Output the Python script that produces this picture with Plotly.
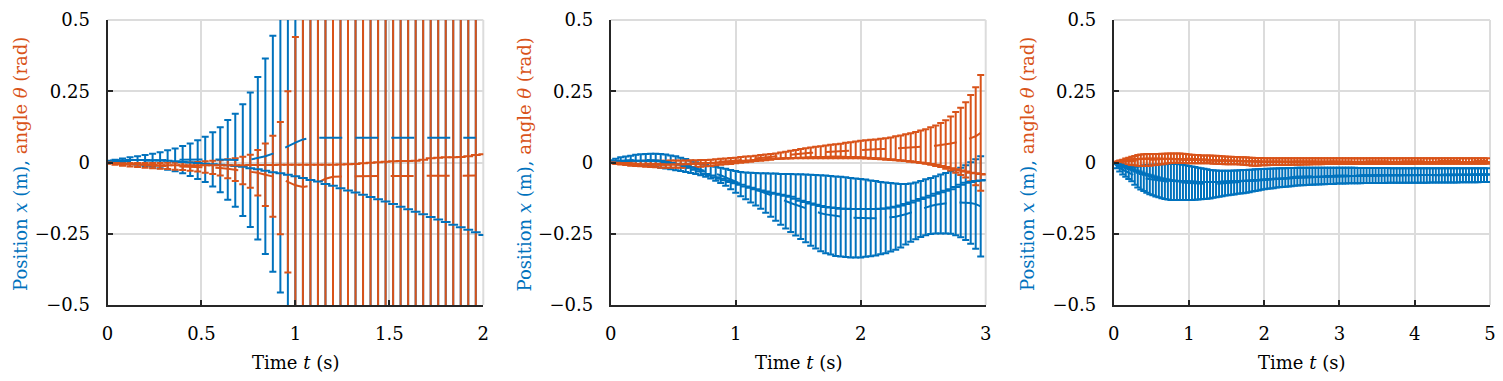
import numpy as np
import plotly.graph_objects as go

DT = 0.04
BLUE = "#0072BD"
ORANGE = "#D95319"

# ---------------- Panel 1 (0..2 s): predicted mean / half-width, and actual rollout
x1_mean = [0.003, 0.004, 0.005, 0.006, 0.007, 0.007, 0.008, 0.008, 0.009, 0.009, 0.010, 0.010, 0.010, 0.011, 0.011, 0.010, 0.009, 0.008, 0.008, 0.010, 0.015, 0.022, 0.031, 0.044, 0.058,
           0.070, 0.081, 0.086, 0.087, 0.087, 0.087, 0.087, 0.087, 0.087, 0.087, 0.087, 0.087, 0.087, 0.087, 0.087, 0.087, 0.087, 0.087, 0.087, 0.087, 0.087, 0.087, 0.087, 0.087, 0.087]
x1_err = [0.003, 0.006, 0.009, 0.012, 0.015, 0.019, 0.023, 0.028, 0.034, 0.040, 0.048, 0.057, 0.068, 0.079, 0.095, 0.114, 0.140, 0.163, 0.196, 0.236, 0.285, 0.343, 0.414, 0.500, 0.600,
          0.72, 0.86, 1.02, 1.2, 1.4, 1.6, 1.8, 2.0, 2.2, 2.4, 2.6, 2.8, 3.0, 3.2, 3.4, 3.6, 3.8, 4.0, 4.2, 4.4, 4.6, 4.8, 5.0, 5.2, 5.4]
th1_mean = [-0.002, -0.004, -0.006, -0.008, -0.009, -0.010, -0.011, -0.012, -0.012, -0.013, -0.013, -0.014, -0.015, -0.016, -0.017, -0.019, -0.022, -0.025, -0.028, -0.031, -0.036, -0.043, -0.048, -0.055, -0.068,
            -0.080, -0.086, -0.082, -0.070, -0.057, -0.050, -0.048, -0.048, -0.048, -0.048, -0.048, -0.048, -0.048, -0.047, -0.047, -0.047, -0.047, -0.047, -0.047, -0.047, -0.046, -0.046, -0.046, -0.046, -0.046]
th1_err = [0.002, 0.004, 0.005, 0.006, 0.007, 0.008, 0.009, 0.010, 0.011, 0.012, 0.013, 0.015, 0.017, 0.020, 0.023, 0.027, 0.033, 0.040, 0.048, 0.058, 0.080, 0.110, 0.142, 0.197, 0.318,
           0.52, 0.80, 1.1, 1.4, 1.7, 2.0, 2.3, 2.6, 2.9, 3.2, 3.5, 3.8, 4.1, 4.4, 4.7, 5.0, 5.3, 5.6, 5.9, 6.2, 6.5, 6.8, 7.1, 7.4, 7.7]
x1_actual = [0.005, 0.007, 0.008, 0.009, 0.009, 0.009, 0.008, 0.007, 0.006, 0.004, 0.002, 0.000, -0.002, -0.004, -0.006, -0.008, -0.010, -0.012, -0.015, -0.020, -0.024, -0.029, -0.034, -0.038, -0.043,
             -0.048, -0.054, -0.061, -0.067, -0.075, -0.082, -0.090, -0.098, -0.105, -0.113, -0.121, -0.129, -0.137, -0.146, -0.155, -0.164, -0.173, -0.182, -0.191, -0.200, -0.209, -0.218, -0.227, -0.236, -0.245,
             -0.254]
th1_actual = [0.000, -0.002, -0.004, -0.006, -0.007, -0.008, -0.009, -0.010, -0.010, -0.010, -0.010, -0.010, -0.010, -0.010, -0.010, -0.010, -0.010, -0.010, -0.010, -0.009, -0.009, -0.009, -0.009, -0.008, -0.008,
              -0.008, -0.008, -0.008, -0.008, -0.008, -0.008, -0.007, -0.006, -0.005, -0.003, -0.001, 0.001, 0.003, 0.004, 0.005, 0.005, 0.006, 0.010, 0.015, 0.017, 0.018, 0.018, 0.019, 0.022, 0.026,
              0.029]

# ---------------- Panel 2 (0..3 s): upper / lower ends of the error bars, and actual rollout
x2_upper = [.008, .013, .018, .021, .024, .027, .029, .030, .031, .031, .030, .028, .025, .022, .017, .012, .006, .001, -.004, -.008, -.012, -.015, -.018, -.022, -.026,
            -.030, -.033, -.035, -.036, -.037, -.038, -.038, -.039, -.039, -.040, -.040, -.040, -.041, -.041, -.042, -.043, -.044, -.045, -.046, -.047, -.049, -.050, -.052, -.054, -.056,
            -.058, -.060, -.063, -.065, -.068, -.070, -.072, -.074, -.075, -.075, -.074, -.070, -.065, -.059, -.054, -.048, -.042, -.037, -.031, -.025, -.018, -.010, .001, .011, .022]
x2_lower = [.000, -.002, -.003, -.005, -.006, -.008, -.010, -.011, -.013, -.015, -.018, -.021, -.024, -.027, -.030, -.033, -.037, -.040, -.045, -.050, -.056, -.064, -.072, -.082, -.094,
            -.106, -.118, -.129, -.140, -.151, -.162, -.176, -.190, -.204, -.218, -.232, -.244, -.256, -.268, -.280, -.292, -.302, -.311, -.318, -.323, -.328, -.330, -.332, -.333, -.333,
            -.333, -.331, -.329, -.326, -.322, -.318, -.312, -.306, -.298, -.288, -.278, -.269, -.261, -.255, -.251, -.249, -.249, -.249, -.250, -.255, -.262, -.272, -.285, -.303, -.330]
x2_actual = [.000, .002, .004, .005, .006, .006, .006, .006, .005, .005, .004, .001, -.002, -.005, -.008, -.012, -.018, -.025, -.032, -.040, -.046, -.052, -.057, -.062, -.068,
             -.073, -.078, -.084, -.089, -.094, -.098, -.102, -.106, -.110, -.113, -.117, -.120, -.127, -.134, -.139, -.144, -.148, -.153, -.156, -.158, -.160, -.162, -.162, -.163, -.163,
             -.163, -.163, -.163, -.163, -.162, -.161, -.158, -.155, -.151, -.146, -.140, -.134, -.128, -.123, -.117, -.110, -.104, -.099, -.094, -.086, -.078, -.071, -.068, -.065, -.063,
             -.061]
th2_upper = [.003, .003, .004, .004, .005, .005, .005, .006, .006, .006, .006, .006, .007, .007, .007, .007, .008, .008, .009, .009, .010, .011, .013, .014, .016,
             .017, .019, .021, .022, .024, .026, .028, .030, .032, .035, .038, .041, .044, .047, .050, .053, .055, .057, .060, .062, .064, .066, .069, .071, .074,
             .076, .078, .080, .081, .083, .085, .088, .092, .095, .099, .103, .107, .112, .117, .124, .130, .139, .148, .161, .177, .192, .211, .237, .264, .307]
th2_lower = [-.003, -.005, -.007, -.009, -.011, -.012, -.013, -.015, -.016, -.017, -.018, -.018, -.018, -.018, -.018, -.018, -.017, -.016, -.015, -.013, -.012, -.010, -.008, -.006, -.005,
             -.003, -.001, .001, .003, .005, .006, .008, .010, .012, .013, .014, .014, .015, .015, .015, .015, .015, .015, .015, .015, .015, .015, .015, .015, .015,
             .015, .014, .013, .012, .011, .010, .009, .008, .007, .005, .004, .002, -.001, -.004, -.008, -.012, -.016, -.022, -.028, -.036, -.044, -.053, -.066, -.080, -.099]
th2_actual = [.000, -.001, -.002, -.003, -.004, -.005, -.006, -.007, -.007, -.008, -.008, -.008, -.007, -.007, -.006, -.006, -.005, -.004, -.004, -.003, -.002, -.001, .000, .001, .002,
              .003, .005, .006, .007, .009, .010, .011, .012, .013, .014, .015, .016, .016, .017, .017, .018, .018, .019, .019, .020, .020, .020, .019, .019, .018,
              .018, .017, .016, .015, .014, .012, .011, .009, .007, .005, .003, .001, -.001, -.003, -.005, -.008, -.012, -.016, -.020, -.024, -.028, -.032, -.036, -.038, -.040,
              -.042]

# ---------------- Panel 3 (0..5 s)
x3_upper = [.000, -.003, -.006, -.009, -.012, -.014, -.015, -.015, -.014, -.012, -.010, -.009, -.008, -.008, -.007, -.007, -.006, -.006, -.005, -.005, -.005, -.005, -.006, -.008, -.010,
            -.012, -.014, -.016, -.018, -.020, -.022, -.024, -.026, -.027, -.028, -.029, -.029, -.029, -.029, -.029, -.028, -.028, -.027, -.026, -.026, -.025, -.025, -.024, -.024, -.023,
            -.023, -.022, -.022, -.021, -.021, -.020, -.020, -.020, -.019, -.019, -.019, -.018, -.018, -.018, -.018, -.018, -.018, -.018, -.018, -.018, -.018, -.018, -.018, -.018, -.018,
            -.018, -.018, -.018, -.018, -.018, -.018, -.019, -.019, -.019, -.019, -.019, -.019, -.019, -.019, -.019, -.019, -.019, -.020, -.020, -.020, -.020, -.020, -.020, -.020, -.020,
            -.020, -.020, -.020, -.020, -.020, -.020, -.020, -.020, -.020, -.020, -.020, -.020, -.020, -.020, -.020, -.020, -.020, -.020, -.020, -.020, -.020, -.020, -.020, -.020, -.020]
x3_lower = [-.003, -.020, -.032, -.042, -.050, -.058, -.066, -.078, -.088, -.095, -.100, -.106, -.111, -.115, -.119, -.122, -.125, -.128, -.130, -.132, -.132, -.132, -.132, -.132, -.132,
            -.132, -.132, -.131, -.130, -.129, -.128, -.127, -.126, -.124, -.122, -.120, -.118, -.116, -.115, -.113, -.112, -.110, -.109, -.108, -.106, -.104, -.102, -.100, -.098, -.096,
            -.094, -.092, -.091, -.090, -.088, -.087, -.086, -.085, -.084, -.083, -.082, -.081, -.080, -.080, -.079, -.078, -.078, -.077, -.077, -.076, -.076, -.075, -.075, -.075, -.074,
            -.074, -.074, -.074, -.073, -.073, -.073, -.073, -.073, -.072, -.072, -.072, -.072, -.072, -.072, -.072, -.072, -.071, -.071, -.071, -.071, -.071, -.071, -.071, -.071, -.071,
            -.071, -.071, -.071, -.071, -.071, -.070, -.070, -.070, -.070, -.070, -.070, -.070, -.070, -.070, -.070, -.069, -.069, -.069, -.069, -.069, -.069, -.069, -.068, -.068, -.068]
x3_actual = [.000, -.004, -.008, -.012, -.016, -.020, -.024, -.028, -.032, -.036, -.040, -.043, -.046, -.049, -.052, -.055, -.057, -.059, -.061, -.063, -.064, -.065, -.066, -.066, -.067,
             -.067, -.067, -.068, -.068, -.068, -.068, -.068, -.068, -.068, -.068, -.068, -.068, -.067, -.067, -.067, -.066, -.066, -.065, -.065, -.064, -.064, -.063, -.062, -.062, -.061,
             -.060, -.060, -.059, -.058, -.058, -.057, -.056, -.056, -.055, -.054, -.054, -.053, -.053, -.052, -.052, -.052, -.051, -.051, -.050, -.050, -.050, -.049, -.049, -.049, -.048,
             -.048, -.048, -.048, -.047, -.047, -.047, -.047, -.046, -.046, -.046, -.046, -.046, -.046, -.045, -.045, -.045, -.045, -.045, -.045, -.045, -.044, -.044, -.044, -.044, -.044,
             -.044, -.044, -.044, -.044, -.044, -.044, -.044, -.044, -.044, -.044, -.043, -.043, -.043, -.043, -.043, -.043, -.043, -.043, -.043, -.043, -.042, -.042, -.042, -.042, -.042,
             -.042]
th3_upper = [.000, .003, .007, .010, .014, .017, .020, .023, .026, .028, .029, .030, .030, .030, .030, .030, .031, .031, .032, .032, .032, .032, .032, .031, .030,
             .028, .027, .026, .026, .025, .025, .025, .025, .024, .024, .023, .022, .021, .020, .020, .019, .019, .018, .018, .018, .017, .017, .016, .016, .016,
             .015, .015, .015, .015, .015, .015, .015, .015, .015, .015, .015, .015, .015, .015, .015, .015, .015, .015, .015, .015, .015, .015, .015, .015, .015,
             .015, .015, .015, .015, .015, .015, .015, .015, .015, .015, .015, .015, .015, .015, .015, .015, .015, .015, .015, .015, .015, .015, .015, .015, .015,
             .015, .015, .015, .015, .015, .015, .015, .015, .015, .015, .015, .015, .015, .015, .015, .015, .015, .015, .015, .015, .015, .015, .015, .015, .015]
th3_lower = [.000, -.003, -.005, -.006, -.007, -.008, -.009, -.010, -.011, -.012, -.012, -.012, -.011, -.010, -.009, -.007, -.006, -.004, -.003, -.002, -.001, -.001, -.001, -.002, -.002,
             -.003, -.003, -.003, -.003, -.003, -.003, -.003, -.003, -.004, -.004, -.005, -.005, -.006, -.006, -.006, -.006, -.006, -.007, -.008, -.009, -.010, -.011, -.011, -.011, -.010,
             -.010, -.010, -.009, -.009, -.009, -.009, -.009, -.009, -.009, -.008, -.008, -.008, -.008, -.007, -.007, -.007, -.006, -.006, -.006, -.006, -.005, -.005, -.005, -.005, -.005,
             -.005, -.005, -.005, -.005, -.005, -.005, -.005, -.005, -.005, -.005, -.005, -.005, -.005, -.005, -.005, -.005, -.005, -.005, -.005, -.005, -.005, -.005, -.005, -.005, -.005,
             -.004, -.004, -.004, -.004, -.004, -.004, -.004, -.004, -.004, -.004, -.004, -.004, -.004, -.004, -.004, -.004, -.004, -.004, -.004, -.004, -.004, -.004, -.004, -.004, -.004]
th3_actual = [.000, .002, .004, .006, .008, .009, .010, .011, .012, .012, .013, .013, .013, .013, .013, .013, .013, .012, .012, .012, .012, .011, .011, .011, .010,
              .010, .010, .009, .009, .009, .008, .008, .008, .007, .007, .007, .006, .006, .006, .005, .005, .005, .005, .004, .004, .004, .004, .004, .003, .003,
              .003, .003, .003, .003, .003, .003, .003, .003, .003, .003, .003, .003, .003, .003, .003, .003, .003, .003, .003, .003, .003, .003, .003, .003, .003,
              .002, .002, .002, .002, .002, .002, .002, .002, .002, .002, .002, .002, .002, .002, .002, .002, .002, .002, .002, .002, .002, .002, .002, .002, .002,
              .002, .002, .002, .002, .002, .002, .002, .002, .002, .002, .002, .002, .001, .001, .001, .001, .001, .001, .001, .001, .001, .001, .001, .001, .001,
              .001]

# axis tick labels
y_tickvals = [-0.5, -0.25, 0, 0.25, 0.5]
y_ticktext = ["\u22120.5", "\u22120.25", "0", "0.25", "0.5"]
x1_tickvals = [0, 0.5, 1, 1.5, 2]
x1_ticktext = ["0", "0.5", "1", "1.5", "2"]
x2_tickvals = [0, 1, 2, 3]
x2_ticktext = ["0", "1", "2", "3"]
x3_tickvals = [0, 1, 2, 3, 4, 5]
x3_ticktext = ["0", "1", "2", "3", "4", "5"]

FONT = "DejaVu Serif"
FS = 18
GRID = "#dcdcdc"

panels = [
    dict(T=2, xm=x1_mean, xe=x1_err, tm=th1_mean, te=th1_err, xa=x1_actual, ta=th1_actual,
         tv=x1_tickvals, tt=x1_ticktext),
    dict(T=3,
         xm=list((np.array(x2_upper) + np.array(x2_lower)) / 2), xe=list((np.array(x2_upper) - np.array(x2_lower)) / 2),
         tm=list((np.array(th2_upper) + np.array(th2_lower)) / 2), te=list((np.array(th2_upper) - np.array(th2_lower)) / 2),
         xa=x2_actual, ta=th2_actual, tv=x2_tickvals, tt=x2_ticktext),
    dict(T=5,
         xm=list((np.array(x3_upper) + np.array(x3_lower)) / 2), xe=list((np.array(x3_upper) - np.array(x3_lower)) / 2),
         tm=list((np.array(th3_upper) + np.array(th3_lower)) / 2), te=list((np.array(th3_upper) - np.array(th3_lower)) / 2),
         xa=x3_actual, ta=th3_actual, tv=x3_tickvals, tt=x3_ticktext),
]

for p in panels:
    n = int(round(p["T"] / DT))
    assert len(p["xm"]) == n and len(p["xe"]) == n and len(p["tm"]) == n and len(p["te"]) == n
    assert len(p["xa"]) == n + 1 and len(p["ta"]) == n + 1

fig = go.Figure()

# the page body adds an 8px offset; the figure is sized so that it fits the window
OFF = 8
W, H = 1493, 365
def px(xs):
    return (xs - OFF) / W
def py(ys):
    return 1 - (ys - OFF) / H

xdomains = [[px(107.5), px(483.3)], [px(610.7), px(985.7)], [px(1113.7), px(1490)]]
ydomain = [py(305), py(20)]

for i, p in enumerate(panels):
    xa_name = "x" if i == 0 else f"x{i+1}"
    ya_name = "y" if i == 0 else f"y{i+1}"
    n = len(p["xm"])
    tb = np.round(np.arange(n) * DT, 4)
    ta = np.round(np.arange(n + 1) * DT, 4)
    common = dict(xaxis=xa_name, yaxis=ya_name, showlegend=False, hoverinfo="skip")
    for m, e, c in [(p["xm"], p["xe"], BLUE), (p["tm"], p["te"], ORANGE)]:
        fig.add_trace(go.Scatter(x=tb, y=m, mode="markers",
                                 marker=dict(size=1, color="rgba(0,0,0,0)"),
                                 error_y=dict(type="data", array=e, symmetric=True, color=c,
                                              thickness=2, width=3.5),
                                 **common))
    for m, c in [(p["xm"], BLUE), (p["tm"], ORANGE)]:
        fig.add_trace(go.Scatter(x=tb, y=m, mode="lines",
                                 line=dict(color=c, width=2, dash="23px,13px"), **common))
    for a, c in [(p["xa"], BLUE), (p["ta"], ORANGE)]:
        fig.add_trace(go.Scatter(x=ta, y=a, mode="markers",
                                 marker=dict(symbol="line-ew", size=7, color=c,
                                             line=dict(width=2, color=c)), **common))

layout = dict(
    width=W, height=H,
    margin=dict(l=0, r=0, t=0, b=0, pad=0, autoexpand=False),
    paper_bgcolor="white", plot_bgcolor="white",
    showlegend=False,
    font=dict(family=FONT, size=FS, color="black"),
)
axis_common = dict(showgrid=True, gridcolor=GRID, gridwidth=2, zeroline=False,
                   showline=True, linecolor="#262626", linewidth=2,
                   ticks="inside", ticklen=5, tickwidth=2, tickcolor="#262626",
                   automargin=False,
                   tickfont=dict(family=FONT, size=FS, color="black"))
for i, p in enumerate(panels):
    sx = "" if i == 0 else str(i + 1)
    layout["xaxis" + sx] = dict(domain=xdomains[i], range=[0, p["T"]], anchor="y" + sx,
                                tickvals=p["tv"], ticktext=p["tt"], ticklabelstandoff=11,
                                **axis_common)
    layout["yaxis" + sx] = dict(domain=ydomain, range=[-0.5, 0.5], anchor="x" + sx,
                                tickvals=y_tickvals, ticktext=y_ticktext, ticklabelstandoff=12,
                                **axis_common)
fig.update_layout(**layout)

# light frame on the top and right edges of each panel (as the grid does in the original)
for i in range(3):
    sx = "" if i == 0 else str(i + 1)
    fig.add_shape(type="line", xref=f"x{sx} domain", yref=f"y{sx} domain", x0=0, x1=1, y0=1, y1=1,
                  line=dict(color=GRID, width=2), layer="below")
    fig.add_shape(type="line", xref=f"x{sx} domain", yref=f"y{sx} domain", x0=1, x1=1, y0=0, y1=1,
                  line=dict(color=GRID, width=2), layer="below")

ytitle = (f'<span style="color:{BLUE}">Position <i>x</i> (m),</span> '
          f'<span style="color:{ORANGE}">angle <i>θ</i> (rad)</span>')
ytitle_x = [20.5, 524, 1027.5]
for i in range(3):
    cx = (xdomains[i][0] + xdomains[i][1]) / 2
    fig.add_annotation(text="Time <i>t</i> (s)", xref="paper", yref="paper", x=cx, y=py(362),
                       xanchor="center", yanchor="middle", showarrow=False,
                       font=dict(family=FONT, size=FS, color="black"))
    fig.add_annotation(text=ytitle, xref="paper", yref="paper", x=px(ytitle_x[i]), y=py(164.5),
                       xanchor="center", yanchor="middle", textangle=-90, showarrow=False,
                       font=dict(family=FONT, size=FS, color="black"))

fig.write_html("out.html")
